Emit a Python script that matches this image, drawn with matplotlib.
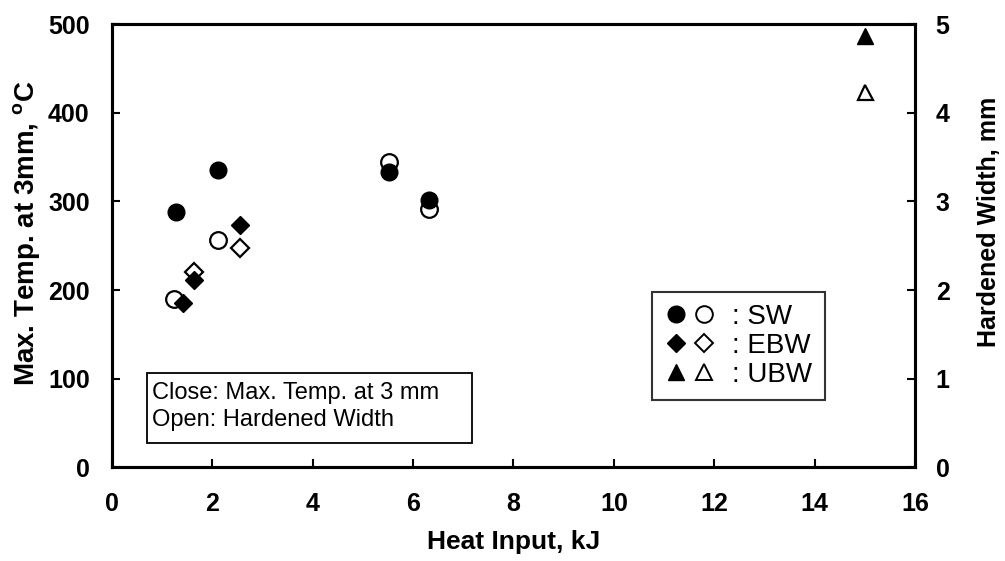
import matplotlib
matplotlib.use("Agg")
import matplotlib.pyplot as plt
from matplotlib.lines import Line2D
from matplotlib.patches import Rectangle
from matplotlib.legend_handler import HandlerTuple

# Heat input (kJ), peak temperature at 3 mm (°C) and hardened width (mm)
sw_heat_temp = [1.28, 2.12, 5.52, 6.32]
sw_temp = [288, 336, 333, 302]
sw_heat_width = [1.24, 2.11, 5.52, 6.32]
sw_width = [1.90, 2.56, 3.45, 2.91]

ebw_heat_temp = [1.42, 1.64, 2.55]
ebw_temp = [186, 211, 274]
ebw_heat_width = [1.64, 2.55]
ebw_width = [2.21, 2.47]

ubw_heat_temp = [15.0]
ubw_temp = [487]
ubw_heat_width = [15.0]
ubw_width = [4.24]

x_ticks = [0, 2, 4, 6, 8, 10, 12, 14, 16]
temp_ticks = [0, 100, 200, 300, 400, 500]
width_ticks = [0, 1, 2, 3, 4, 5]

plt.rcParams['font.family'] = ['Liberation Sans', 'DejaVu Sans']

fig = plt.figure(figsize=(10.05, 5.61), dpi=100)
ax = fig.add_axes([0.1114, 0.1667, 0.799, 0.7903])
ax2 = ax.twinx()

ms = 12
mew = 1.6
ax.plot(sw_heat_temp, sw_temp, 'o', color='black', ms=ms, zorder=3)
ax.plot(ebw_heat_temp, ebw_temp, 'D', color='black', ms=ms * 0.75, zorder=3)
ax.plot(ubw_heat_temp, ubw_temp, '^', color='black', ms=ms, zorder=3)

ax2.plot(sw_heat_width, sw_width, 'o', mfc='white', mec='black', mew=mew, ms=ms, zorder=2)
ax2.plot(ebw_heat_width, ebw_width, 'D', mfc='white', mec='black', mew=mew, ms=ms * 0.75, zorder=2)
ax2.plot(ubw_heat_width, ubw_width, '^', mfc='white', mec='black', mew=mew, ms=ms * 0.9, zorder=2)
ax.set_zorder(ax2.get_zorder() + 1)
ax.patch.set_visible(False)

ax.set_xlim(0, 16)
ax.set_ylim(0, 500)
ax2.set_ylim(0, 5)
ax.set_xticks(x_ticks)
ax.set_yticks(temp_ticks)
ax2.set_yticks(width_ticks)

for a in (ax, ax2):
    for s in a.spines.values():
        s.set_linewidth(2.2)
        s.set_color('black')

ax.tick_params(axis='x', direction='in', length=6, width=1.5, pad=18)
ax.tick_params(axis='y', direction='in', length=6, width=1.5, pad=16)
ax2.tick_params(axis='y', direction='in', length=6, width=1.5, pad=15)

for lab in ax.get_xticklabels() + ax.get_yticklabels() + ax2.get_yticklabels():
    lab.set_fontsize(18)
    lab.set_fontweight('bold')

ax.set_xlabel('Heat Input, kJ', fontsize=19, fontweight='bold', labelpad=10)
ax.set_ylabel('Max. Temp. at 3mm, $\\mathregular{^o}$C', fontsize=20, fontweight='bold')
ax.yaxis.set_label_coords(-0.087, 0.528)
ax2.set_ylabel('Hardened Width, mm', fontsize=18, fontweight='bold')
ax2.yaxis.set_label_coords(1.077, 0.554)

# Note box explaining filled vs. open symbols
ax.add_patch(Rectangle((0.0436, 0.055), 0.4047, 0.158, transform=ax.transAxes,
                       fc='white', ec='black', lw=1.3, zorder=4))
ax.text(0.05, 0.168, 'Close: Max. Temp. at 3 mm', transform=ax.transAxes,
        fontsize=17, va='center', ha='left', zorder=5)
ax.text(0.05, 0.107, 'Open: Hardened Width', transform=ax.transAxes,
        fontsize=17, va='center', ha='left', zorder=5)

# Legend rows: filled marker (temperature) and open marker (width) per process
def pair(marker, size):
    filled = Line2D([], [], ls='none', marker=marker, color='black', ms=size)
    hollow = Line2D([], [], ls='none', marker=marker, mfc='white', mec='black', mew=1.4, ms=size)
    return (filled, hollow)

handles = [pair('o', 12), pair('D', 9), pair('^', 12)]
labels = [': SW', ': EBW', ': UBW']
leg = ax.legend(handles, labels, handler_map={tuple: HandlerTuple(ndivide=None, pad=0.12)},
                loc='lower left', bbox_to_anchor=(0.672, 0.152), fontsize=20,
                frameon=True, fancybox=False, edgecolor='black', handlelength=1.9,
                handletextpad=0.55, borderpad=0.45, labelspacing=0.1, borderaxespad=0)
leg.get_frame().set_linewidth(1.5)

fig.savefig('out.png', dpi=100)
